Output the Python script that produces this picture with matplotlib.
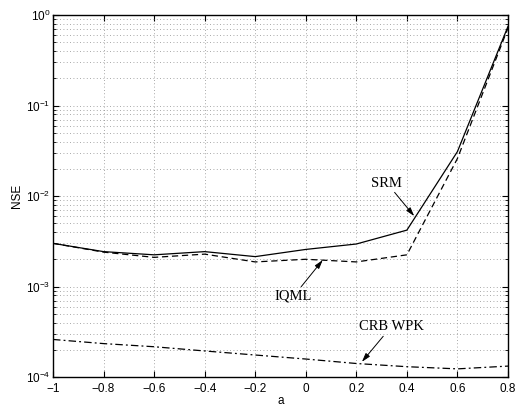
import matplotlib
matplotlib.use("Agg")
import matplotlib.pyplot as plt

# data
a = [-1, -0.8, -0.6, -0.4, -0.2, 0, 0.2, 0.4, 0.6, 0.8]
srm = [3.0e-3, 2.43e-3, 2.24e-3, 2.43e-3, 2.14e-3, 2.57e-3, 2.95e-3, 4.2e-3, 0.031, 0.75]
iqml = [3.0e-3, 2.4e-3, 2.1e-3, 2.28e-3, 1.87e-3, 2.0e-3, 1.87e-3, 2.24e-3, 0.026, 0.72]
crb = [2.6e-4, 2.34e-4, 2.16e-4, 1.94e-4, 1.75e-4, 1.58e-4, 1.41e-4, 1.3e-4, 1.23e-4, 1.32e-4]
xticks = [-1, -0.8, -0.6, -0.4, -0.2, 0, 0.2, 0.4, 0.6, 0.8]
xticklabels = ['\u22121', '\u22120.8', '\u22120.6', '\u22120.4', '\u22120.2', '0', '0.2', '0.4', '0.6', '0.8']

plt.rcParams['font.family'] = 'Liberation Sans'
plt.rcParams['font.size'] = 8.5

fig = plt.figure(figsize=(5.16, 4.07), dpi=100)
ax = fig.add_axes([0.1027, 0.0737, 0.8818, 0.8893])

ax.semilogy(a, srm, 'k-', lw=0.9)
ax.semilogy(a, iqml, 'k--', lw=0.9, dashes=(5, 3))
ax.semilogy(a, crb, 'k-.', lw=0.9, dashes=(6, 2.5, 1.5, 2.5))

ax.set_xlim(-1, 0.8)
ax.set_ylim(1e-4, 1)
ax.set_xticks(xticks)
ax.set_xticklabels(xticklabels)
ax.grid(True, which='major', color='0.55', lw=0.6, dashes=(1, 3))
ax.grid(True, which='minor', axis='y', color='0.55', lw=0.6, dashes=(1, 3))
ax.tick_params(which='both', direction='in', top=True, right=True)
ax.tick_params(which='major', length=4, pad=2)
ax.tick_params(axis='x', which='major', pad=4)
ax.tick_params(which='minor', length=2)
for s in ax.spines.values():
    s.set_linewidth(1.0)

ax.set_xlabel('a', labelpad=0)
ax.set_ylabel('NSE', labelpad=2)

arr = dict(arrowstyle='-|>,head_length=0.5,head_width=0.15', color='k', lw=0.7,
           shrinkA=0, shrinkB=0)
ax.annotate('SRM', xy=(0.429, 6.0e-3), xytext=(0.321, 0.0139), ha='center', va='center',
            arrowprops=arr, family='Liberation Serif', size=10.5)
ax.annotate('IQML', xy=(0.067, 1.96e-3), xytext=(-0.048, 7.85e-4), ha='center', va='center',
            arrowprops=arr, family='Liberation Serif', size=10.5)
ax.annotate('CRB WPK', xy=(0.222, 1.47e-4), xytext=(0.337, 3.57e-4), ha='center', va='center',
            arrowprops=arr, family='Liberation Serif', size=10.5)

fig.savefig('out.png', dpi=100)
